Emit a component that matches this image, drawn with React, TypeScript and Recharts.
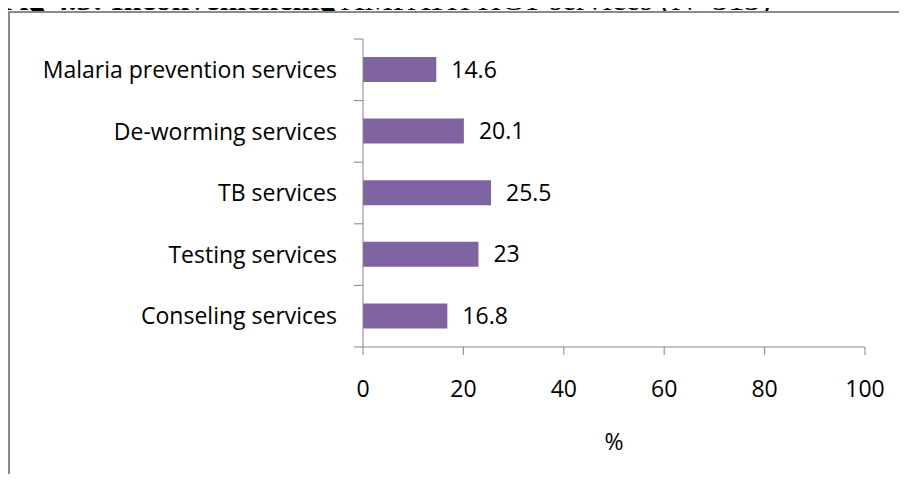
import React from "react";
import { BarChart, Bar, XAxis, YAxis, LabelList } from "recharts";

const categories = [
  "Malaria prevention services",
  "De-worming services",
  "TB services",
  "Testing services",
  "Conseling services",
];
const values = [14.6, 20.1, 25.5, 23, 16.8];
const xTicks = [0, 20, 40, 60, 80, 100];

const data = categories.map((c, i) => ({ name: c, value: values[i] }));

const FONT = "'Open Sans', Lato, sans-serif";
const AXIS = "#868686";
const FS = 23;
const LABEL_GAP = 26;
const TICK_LEN = 9;

function CatTick(props: any) {
  const { x, y, payload, index, visibleTicksCount, height } = props;
  const band = height / visibleTicksCount;
  const ax = x + LABEL_GAP;
  return (
    <g>
      <line x1={ax - TICK_LEN} x2={ax} y1={y - band / 2} y2={y - band / 2} stroke={AXIS} strokeWidth={1} />
      {index === visibleTicksCount - 1 && (
        <line x1={ax - TICK_LEN} x2={ax} y1={y + band / 2} y2={y + band / 2} stroke={AXIS} strokeWidth={1} />
      )}
      <text x={x} y={y} dy="0.355em" textAnchor="end" fill="#000" fontSize={FS} fontFamily={FONT}>
        {payload.value}
      </text>
    </g>
  );
}

export default function App() {
  return (
    <div style={{ position: "relative", margin: -8, width: 907, height: 482, overflow: "hidden", background: "#fff" }}>
      <div
        style={{
          position: "absolute",
          left: 0,
          top: -17,
          fontFamily: "'Liberation Serif', 'Times New Roman', serif",
          fontSize: 32,
          whiteSpace: "nowrap",
          color: "#000",
          lineHeight: "32px",
        }}
      >
        <b>Fig 4.5: Inconveniencing</b> AMPATH HCT services (N=313)
      </div>
      <div
        style={{
          position: "absolute",
          left: 8,
          top: 11,
          width: 1000,
          height: 600,
          border: "2px solid #8a8a8a",
          background: "#fff",
        }}
      />
      <div style={{ position: "absolute", left: 0, top: 0 }}>
        <BarChart
          width={907}
          height={482}
          data={data}
          layout="vertical"
          margin={{ top: 39, right: 42, bottom: 0, left: 0 }}
        >
          <XAxis
            type="number"
            domain={[0, 100]}
            ticks={xTicks}
            interval={0}
            height={135}
            stroke={AXIS}
            tickSize={8}
            tickMargin={26}
            tick={{ fill: "#000", fontSize: FS, fontFamily: FONT }}
            label={{ value: "%", position: "insideTop", dy: 82, fill: "#000", fontSize: FS, fontFamily: FONT }}
          />
          <YAxis
            type="category"
            dataKey="name"
            width={363}
            stroke={AXIS}
            tickLine={false}
            tickSize={0}
            tickMargin={LABEL_GAP}
            interval={0}
            tick={<CatTick />}
          />
          <Bar dataKey="value" fill="#8064A2" barSize={25} isAnimationActive={false}>
            <LabelList dataKey="value" position="right" offset={15} fill="#000" fontSize={FS} fontFamily={FONT} />
          </Bar>
        </BarChart>
      </div>
    </div>
  );
}
